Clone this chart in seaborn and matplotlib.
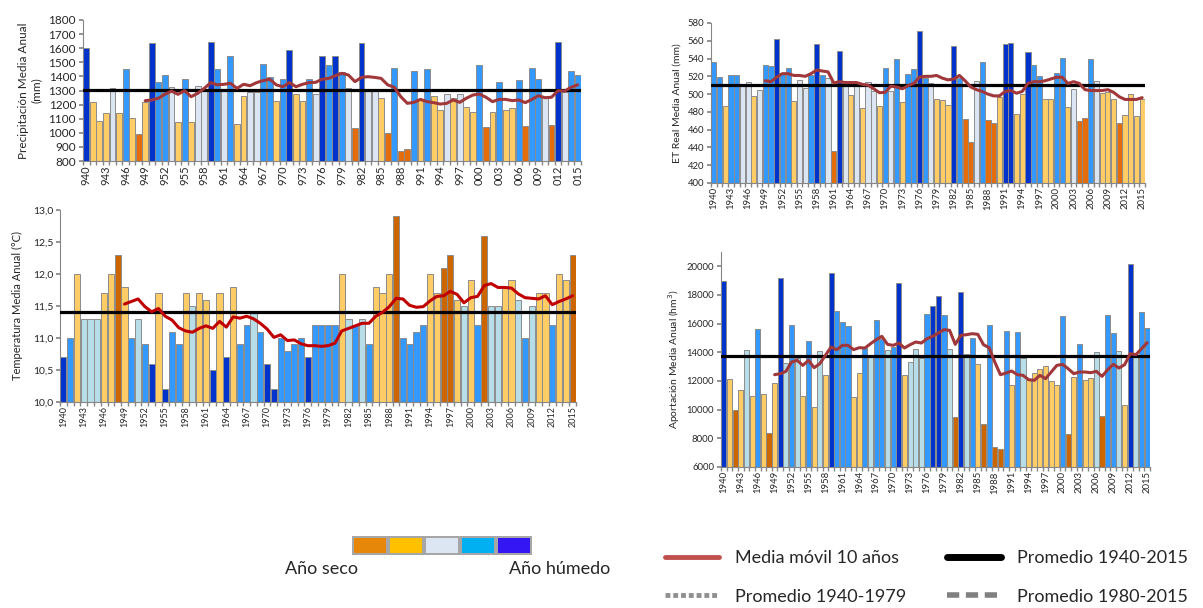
import numpy as np
import pandas as pd
import matplotlib
matplotlib.use('Agg')
import matplotlib.pyplot as plt
import seaborn as sns
from matplotlib.lines import Line2D

sns.set_theme(style='white')
plt.rcParams['font.family'] = ['Lato', 'DejaVu Sans']
plt.rcParams['text.color'] = '#262626'
plt.rcParams['axes.labelcolor'] = '#262626'
plt.rcParams['xtick.color'] = '#262626'
plt.rcParams['ytick.color'] = '#262626'

years = list(range(1940, 2016))
ma_years = list(range(1949, 2016))

# year classes: D very dry, d dry, n normal, w wet, W very wet
prec_values = [1600, 1220, 1085, 1143, 1320, 1138, 1450, 1107, 995, 1220,
               1635, 1363, 1408, 1327, 1079, 1382, 1080, 1332, 1300, 1645,
               1455, 1300, 1545, 1060, 1263, 1290, 1290, 1485, 1398, 1225,
               1380, 1588, 1273, 1222, 1385, 1275, 1545, 1480, 1547, 1434,
               1315, 1036, 1635, 1300, 1300, 1245, 1000, 1457, 873, 883,
               1438, 1233, 1452, 1263, 1162, 1273, 1250, 1273, 1185, 1145,
               1480, 1043, 1145, 1363, 1160, 1173, 1372, 1048, 1460, 1382,
               1257, 1055, 1646, 1292, 1440, 1408]
prec_classes = list("WdddndwdDd" "WwwndwdnnW" "wnwddnnwwd" "wWddwnWwWw"
                    "nDWnndDwDD" "wdwddndndd" "wDdwddwDww" "nDWnww")
prec_ma = [1228, 1233, 1245, 1273, 1296, 1273, 1299, 1256, 1280, 1315,
           1356, 1340, 1344, 1351, 1315, 1344, 1334, 1356, 1370, 1380,
           1340, 1327, 1356, 1327, 1344, 1356, 1358, 1380, 1386, 1405,
           1422, 1410, 1363, 1393, 1398, 1393, 1386, 1340, 1323, 1256,
           1209, 1216, 1237, 1221, 1214, 1204, 1209, 1233, 1216, 1245,
           1268, 1275, 1252, 1221, 1237, 1237, 1228, 1233, 1214, 1237,
           1263, 1249, 1252, 1299, 1296, 1323, 1340]
prec_mean = 1303

temp_values = [10.7, 11.0, 12.0, 11.3, 11.3, 11.3, 11.7, 12.0, 12.3, 11.8,
               11.0, 11.3, 10.9, 10.6, 11.7, 10.2, 11.1, 10.9, 11.7, 11.5,
               11.7, 11.6, 10.5, 11.7, 10.7, 11.8, 10.9, 11.2, 11.4, 11.1,
               10.6, 10.2, 11.0, 10.8, 10.9, 11.0, 10.7, 11.2, 11.2, 11.2,
               11.2, 12.0, 11.3, 11.2, 11.3, 10.9, 11.8, 11.7, 12.0, 12.9,
               11.0, 10.9, 11.1, 11.2, 12.0, 11.7, 12.1, 12.3, 11.6, 11.5,
               11.9, 11.2, 12.6, 11.5, 11.5, 11.8, 11.9, 11.6, 11.0, 11.5,
               11.7, 11.7, 11.2, 12.0, 11.9, 12.3]
temp_classes = list("WwdnnnddDd" "wnwWdWwwdn" "ddWdWdwwnw" "WWwwwwWwww"
                    "wdnwnwdddD" "wwwwddDDdn" "dwDnnddnwn" "ddwddD")
temp_ma = [11.53, 11.57, 11.61, 11.49, 11.41, 11.46, 11.34, 11.28, 11.16, 11.11,
           11.09, 11.15, 11.19, 11.15, 11.26, 11.17, 11.33, 11.31, 11.34, 11.30,
           11.23, 11.14, 11.01, 11.05, 10.96, 10.97, 10.91, 10.88, 10.88, 10.87,
           10.88, 10.92, 11.11, 11.15, 11.19, 11.23, 11.23, 11.34, 11.40, 11.49,
           11.62, 11.61, 11.51, 11.48, 11.49, 11.58, 11.65, 11.66, 11.73, 11.68,
           11.55, 11.63, 11.65, 11.82, 11.85, 11.79, 11.79, 11.78, 11.69, 11.63,
           11.62, 11.61, 11.66, 11.52, 11.57, 11.61, 11.66]
temp_mean = 11.4

et_values = [536, 519, 487, 521, 521, 510, 514, 498, 505, 533,
             532, 562, 524, 529, 492, 516, 507, 522, 556, 521,
             518, 436, 549, 511, 499, 511, 484, 514, 503, 487,
             529, 503, 540, 491, 523, 528, 571, 518, 512, 494,
             493, 488, 554, 518, 472, 446, 515, 536, 471, 468,
             497, 556, 557, 478, 500, 547, 533, 520, 494, 495,
             524, 541, 486, 506, 470, 473, 540, 515, 501, 502,
             495, 468, 476, 500, 475, 494]
et_classes = list("wwdwwnndnw" "wWwwdnnwWw" "nDWndndnnd" "wnwdwwWwnd"
                  "ddWwDDnwDD" "dWWddWwwdd" "wwdnDDwndd" "dDdddd")
et_ma = [515, 514, 519, 523, 523, 521, 521, 520, 523, 527,
         526, 525, 512.5, 514, 513, 513, 513, 511, 510, 506,
         501.6, 502, 509, 508, 506, 509.5, 512, 519, 520, 520,
         521, 518, 516, 517, 521, 515, 508, 505, 503, 500,
         498, 498, 503, 504, 501, 503, 512, 514, 514, 515,
         517, 519, 519, 512, 514, 512, 505, 504, 504, 504,
         505, 502, 497, 494, 494, 494, 496]
et_mean = 510

ap_values = [18980, 12110, 10000, 11390, 14130, 10970, 15650, 11120, 8400, 11860,
             19210, 13280, 15880, 13600, 10920, 14760, 10170, 14110, 12420, 19550,
             16850, 16140, 15840, 10850, 12540, 14300, 13750, 16230, 14950, 14160,
             14350, 18860, 12440, 13320, 14200, 13600, 16690, 17230, 17950, 16630,
             14230, 9490, 18210, 13860, 15020, 13210, 9020, 15880, 7390, 7230,
             15510, 11740, 15440, 13630, 12050, 12580, 12840, 13050, 12000, 11700,
             16560, 8320, 12280, 14560, 12090, 12230, 14020, 9530, 16630, 15370,
             14090, 10300, 20190, 13800, 16810, 15700]
ap_classes = list("WdDdndwdDd" "WnwndwdndW" "wwwddwnwwn" "wWdnnnwWWw"
                  "nDWnwdDwDD" "wdwndddddd" "wDdwddnDww" "ndWnww")
ap_ma = [12440, 12510, 12673, 13324, 13440, 13090, 13440, 12929, 13208, 13790,
         14371, 14185, 14487, 14487, 14185, 14325, 14301, 14604, 14883, 15116,
         14557, 14487, 14650, 14301, 14534, 14720, 14650, 14953, 15116, 15348,
         15581, 15534, 14557, 15185, 15232, 15302, 15255, 14534, 14325, 13324,
         12440, 12557, 12696, 12440, 12394, 12092, 12045, 12394, 12161, 12627,
         13090, 13162, 12860, 12510, 12627, 12627, 12580, 12673, 12324, 12789,
         13162, 12906, 13138, 13906, 13836, 14255, 14673]
ap_mean = 13770

pal_a = {'D': '#E46C0A', 'd': '#FFCC66', 'n': '#DCE6F2', 'w': '#3399FF', 'W': '#0033CC'}
pal_b = {'D': '#CC6600', 'd': '#FFCC66', 'n': '#B7DDE8', 'w': '#3399FF', 'W': '#0033CC'}

legend_classes = ['Muy seco', 'Seco', 'Normal', 'Húmedo', 'Muy húmedo']
legend_colors = ['#E6870A', '#FFC000', '#DCE6F2', '#00B0F0', '#3416F5']

W, H = 1203, 608
fig = plt.figure(figsize=(W / 100, H / 100), dpi=100)


def add_axes_px(left, top, right, bottom):
    return fig.add_axes([left / W, 1 - bottom / H, (right - left) / W, (bottom - top) / H])


def draw_panel(ax, values, classes, moving, mean, palette, line_color,
               ylim, yticks, yticklabels, ylabel, label_x, xticklabels,
               tick_fs, xtick_fs, label_fs):
    df = pd.DataFrame({'year': years, 'value': values, 'cls': classes})
    sns.barplot(data=df, x='year', y='value', hue='cls', palette=palette,
                dodge=False, width=0.9, saturation=1, edgecolor='#8c8c8c',
                linewidth=0.7, errorbar=None, legend=False, ax=ax)
    ma_df = pd.DataFrame({'pos': [years.index(y) for y in ma_years], 'ma': moving})
    ax.axhline(mean, color='black', lw=2.3, zorder=3)
    sns.lineplot(data=ma_df, x='pos', y='ma', color=line_color, lw=2.2,
                 ax=ax, zorder=4)
    ax.set_xlim(-0.5, len(years) - 0.5)
    ax.set_ylim(*ylim)
    ax.set_yticks(yticks, yticklabels, fontsize=tick_fs)
    ax.set_xticks(range(0, len(years), 3), xticklabels, rotation=90, fontsize=xtick_fs)
    ax.set_xticks(np.arange(-0.5, len(years), 1), minor=True)
    ax.tick_params(axis='x', which='major', length=0, pad=3)
    ax.tick_params(axis='x', which='minor', length=3, color='#868686', bottom=True)
    ax.tick_params(axis='y', length=3, color='#868686', pad=2, left=True)
    ax.set_xlabel('')
    ax.set_ylabel(ylabel, fontsize=label_fs)
    ax.yaxis.set_label_coords(label_x, 0.5)
    sns.despine(ax=ax)
    for s in ('left', 'bottom'):
        ax.spines[s].set_color('#868686')
        ax.spines[s].set_linewidth(0.8)


full_labels = [str(y) for y in years[::3]]
cut_labels = [str(y)[1:] for y in years[::3]]

# Precipitación
ax1 = add_axes_px(83, 20, 581, 161)
draw_panel(ax1, prec_values, prec_classes, prec_ma, prec_mean, pal_a, '#A0373A',
           (800, 1800), range(800, 1801, 100), [str(v) for v in range(800, 1801, 100)],
           'Precipitación Media Anual\n(mm)', -0.082, cut_labels, 8.5, 8, 8.5)

# Temperatura
ax2 = add_axes_px(60, 210, 576, 402)
t_ticks = [10.0, 10.5, 11.0, 11.5, 12.0, 12.5, 13.0]
draw_panel(ax2, temp_values, temp_classes, temp_ma, temp_mean, pal_b, '#C00000',
           (10, 13), t_ticks, [f'{v:.1f}'.replace('.', ',') for v in t_ticks],
           'Temperatura Media Anual (°C)', -0.072, full_labels, 7.5, 6.5, 8)

# ET real
ax3 = add_axes_px(711, 23, 1145, 183)
draw_panel(ax3, et_values, et_classes, et_ma, et_mean, pal_a, '#A0373A',
           (400, 580), range(400, 581, 20), [str(v) for v in range(400, 581, 20)],
           'ET Real Media Anual (mm)', -0.067, full_labels, 6.8, 6.8, 7.5)

# Aportación
ax4 = add_axes_px(721, 252, 1150, 467)
draw_panel(ax4, ap_values, ap_classes, ap_ma, ap_mean, pal_b, '#A0373A',
           (6000, 21000), range(6000, 20001, 2000), [str(v) for v in range(6000, 20001, 2000)],
           'Aportación Media Anual (hm$^3$)', -0.091, full_labels, 6.8, 6.8, 7.5)

# colour scale legend
axl = add_axes_px(352, 536, 532, 555)
leg_df = pd.DataFrame({'cls': legend_classes, 'h': [1] * 5})
sns.barplot(data=leg_df, x='cls', y='h', hue='cls', palette=legend_colors,
            saturation=1, width=0.9, linewidth=0, legend=False, ax=axl)
axl.set_facecolor('#A6A6A6')
axl.set_ylim(-0.1, 1.1)
axl.set_xlim(-0.5, 4.5)
axl.set_xticks([])
axl.set_yticks([])
axl.set_xlabel('')
axl.set_ylabel('')
for s in axl.spines.values():
    s.set_visible(False)
fig.text(285 / W, 1 - 569 / H, 'Año seco', fontsize=13, va='center', ha='left')
fig.text(610 / W, 1 - 569 / H, 'Año húmedo', fontsize=13, va='center', ha='right')

# line legend
handles = [Line2D([], [], color='#C0504D', lw=3.5),
           Line2D([], [], color='#909090', lw=3.5, ls=(0, (1, 0.6))),
           Line2D([], [], color='black', lw=5),
           Line2D([], [], color='#808080', lw=4, ls=(0, (2.2, 1.2)))]
labels = ['Media móvil 10 años', 'Promedio 1940-1979',
          'Promedio 1940-2015', 'Promedio 1980-2015']
fig.legend(handles, labels, ncol=2, loc='upper left',
           bbox_to_anchor=(665 / W, 1 - 550 / H), frameon=False, fontsize=13,
           handlelength=3.0, handletextpad=0.85, columnspacing=2.3,
           labelspacing=1.25, borderpad=0, borderaxespad=0)

fig.savefig('out.png', dpi=100)
